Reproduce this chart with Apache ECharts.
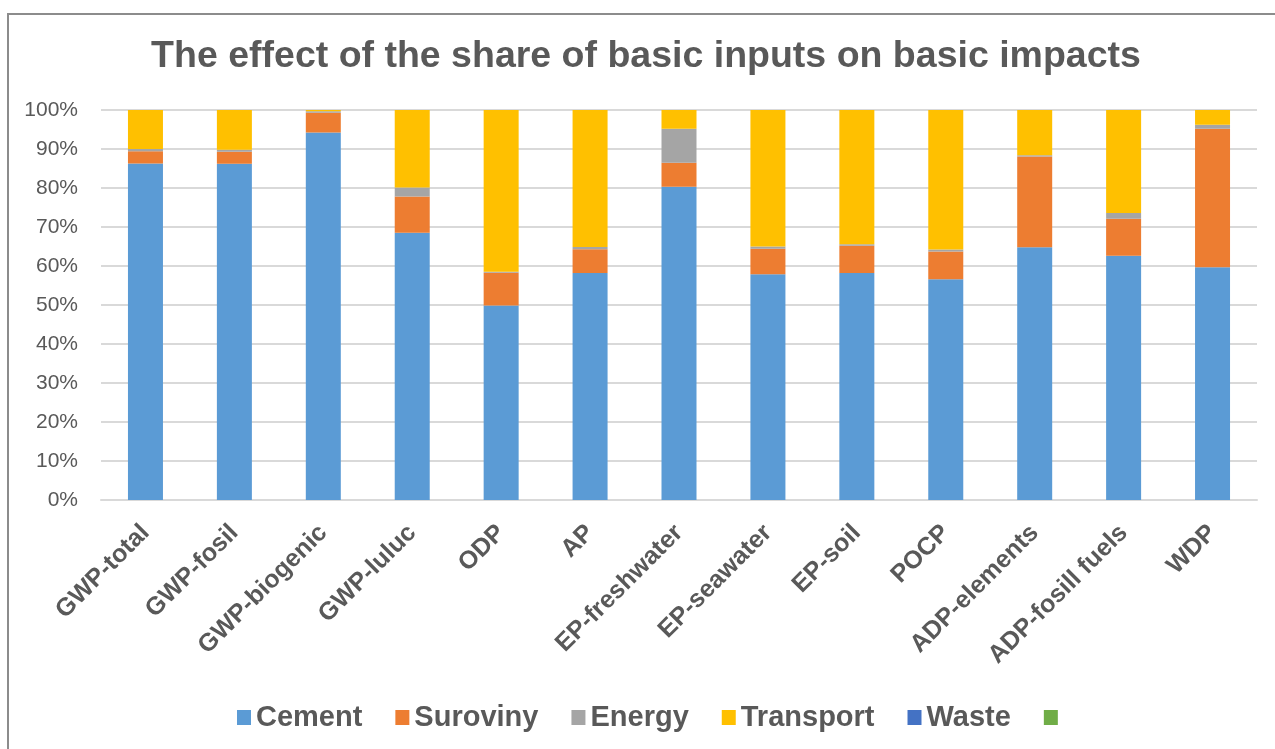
<!DOCTYPE html>
<html>
<head>
<meta charset="utf-8">
<title>The effect of the share of basic inputs on basic impacts</title>
<script src="https://cdn.jsdelivr.net/npm/echarts@6/dist/echarts.min.js"></script>
<style>
html, body {
  margin: 0;
  padding: 0;
  width: 1275px;
  height: 749px;
  overflow: hidden;
  background: #fff;
}
#frame {
  position: absolute;
  left: 7px;
  top: 13px;
  width: 1400px;
  height: 800px;
  border-left: 2px solid #8c8c8c;
  border-top: 2px solid #8c8c8c;
}
#chart {
  position: absolute;
  left: 0;
  top: 0;
  width: 1292px;
  height: 749px;
}
</style>
</head>
<body>
<div id="frame"></div>
<div id="chart"></div>
<script>
const categories = ['GWP-total', 'GWP-fosil', 'GWP-biogenic', 'GWP-luluc', 'ODP', 'AP',
  'EP-freshwater', 'EP-seawater', 'EP-soil', 'POCP', 'ADP-elements', 'ADP-fosill fuels', 'WDP']
const yTicks = [0, 10, 20, 30, 40, 50, 60, 70, 80, 90, 100]

// shares in %
const cement = [86.3, 86.2, 94.2, 68.5, 49.9, 58.2, 80.3, 57.9, 58.2, 56.6, 64.8, 62.6, 59.7]
const suroviny = [3.1, 3.1, 5.1, 9.3, 8.4, 6.1, 6.2, 6.5, 7.0, 7.1, 23.3, 9.5, 35.5]
const energy = [0.6, 0.5, 0.4, 2.3, 0.2, 0.6, 8.7, 0.6, 0.4, 0.5, 0.3, 1.5, 1.0]
const transport = [10.0, 10.2, 0.3, 19.9, 41.5, 35.1, 4.8, 35.0, 34.4, 35.8, 11.6, 26.4, 3.8]
const waste = [0, 0, 0, 0, 0, 0, 0, 0, 0, 0, 0, 0, 0]
const other = [0, 0, 0, 0, 0, 0, 0, 0, 0, 0, 0, 0, 0]

const font = "'Liberation Sans', Arial, sans-serif"
const textGray = '#595959'

function bar (name, data, color) {
  return {
    name: name,
    type: 'bar',
    stack: 'share',
    barWidth: 35,
    data: data,
    itemStyle: { color: color },
    emphasis: { disabled: true }
  }
}

const myChart = echarts.init(document.getElementById('chart'))

const option = {
  animation: false,
  title: {
    text: 'The effect of the share of basic inputs on basic impacts',
    left: 'center',
    top: 33,
    textStyle: {
      color: textGray,
      fontFamily: font,
      fontWeight: 'bold',
      fontSize: 37.5
    }
  },
  legend: {
    top: 698,
    left: 232,
    itemWidth: 14,
    itemHeight: 15,
    itemGap: 33,
    icon: 'rect',
    textStyle: {
      color: textGray,
      fontFamily: font,
      fontWeight: 'bold',
      fontSize: 29
    },
    data: ['Cement', 'Suroviny', 'Energy', 'Transport', 'Waste', ' ']
  },
  grid: {
    left: 101,
    right: 35,
    top: 110,
    bottom: 249,
    containLabel: false
  },
  xAxis: {
    type: 'category',
    data: categories,
    axisTick: { show: false },
    axisLine: { lineStyle: { color: '#d9d9d9', width: 2 } },
    axisLabel: {
      interval: 0,
      rotate: 45,
      margin: 29,
      color: textGray,
      fontFamily: font,
      fontWeight: 'bold',
      fontSize: 25
    }
  },
  yAxis: {
    type: 'value',
    min: yTicks[0],
    max: yTicks[yTicks.length - 1],
    interval: 10,
    axisLine: { show: false },
    axisTick: { show: false },
    splitLine: { lineStyle: { color: '#d9d9d9', width: 2 } },
    axisLabel: {
      margin: 23,
      color: textGray,
      fontFamily: font,
      fontSize: 21,
      formatter: '{value}%'
    }
  },
  series: [
    bar('Cement', cement, '#5b9bd5'),
    bar('Suroviny', suroviny, '#ed7d31'),
    bar('Energy', energy, '#a5a5a5'),
    bar('Transport', transport, '#ffc000'),
    bar('Waste', waste, '#4472c4'),
    bar(' ', other, '#70ad47')
  ]
}

myChart.setOption(option, true)
</script>
</body>
</html>
